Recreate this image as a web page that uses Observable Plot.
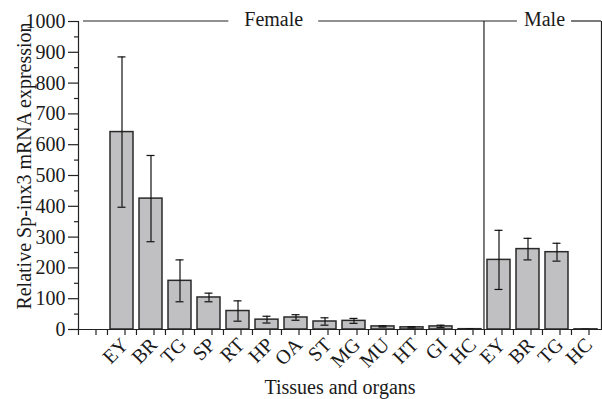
<!DOCTYPE html>
<html>
<head>
<meta charset="utf-8">
<script src="https://cdn.jsdelivr.net/npm/d3@7"></script>
<script src="https://cdn.jsdelivr.net/npm/@observablehq/plot@0.6"></script>
<style>
  html, body { margin: 0; padding: 0; background: #fff; }
  #chart svg { display: block; }
  #chart svg, #chart svg text { font-family: "Liberation Serif", "Times New Roman", "DejaVu Serif", serif !important; }
</style>
</head>
<body>
<div id="chart"></div>
<script>
const femaleTissues = ["EY","BR","TG","SP","RT","HP","OA","ST","MG","MU","HT","GI","HC"];
const femaleMeans  = [641, 425, 158, 104, 60, 32, 39, 26, 28, 10, 7, 10, 1];
const femaleErrors = [244, 140, 68, 14, 33, 11, 9, 12, 8, 2, 2, 4, 0.5];
const maleTissues = ["EY","BR","TG","HC"];
const maleMeans  = [226, 261, 251, 0.5];
const maleErrors = [96, 35, 29, 0];
const yMajorTicks = [0,100,200,300,400,500,600,700,800,900,1000];
const yMinorTicks = [50,150,250,350,450,550,650,750,850,950];
const groupLabels = ["Female", "Male"];
const yTitle = "Relative Sp-inx3 mRNA expression";
const xTitle = "Tissues and organs";

const rows = [
  ...femaleTissues.map((t, i) => ({key: "F-" + t, tissue: t, mean: femaleMeans[i], err: femaleErrors[i]})),
  ...maleTissues.map((t, i) => ({key: "M-" + t, tissue: t, mean: maleMeans[i], err: maleErrors[i]}))
];
const domain = ["pad", ...rows.map(d => d.key)];

const W = 602, H = 399, mL = 78, mR = 1, mT = 21, mB = 70;
const step = (W - mL - mR) / domain.length;
const fmt = d => d === "pad" ? "" : d.split("-")[1];
const font = "'Liberation Serif', 'Times New Roman', 'DejaVu Serif', serif";

const chart = Plot.plot({
  width: W, height: H,
  marginLeft: mL, marginRight: mR, marginTop: mT, marginBottom: mB,
  style: {fontFamily: font, fontSize: "20px", color: "#1a1a1a", background: "#fff"},
  x: {type: "band", domain, paddingInner: 0.2, paddingOuter: 0.1, align: 0.5},
  y: {domain: [0, 1000]},
  marks: [
    Plot.barY(rows, {x: "key", y: "mean", fill: "#c0c0c2", stroke: "#2a2a2a", strokeWidth: 1.5}),
    Plot.ruleX(rows, {x: "key", y1: d => d.mean - d.err, y2: d => d.mean + d.err, stroke: "#111", strokeWidth: 1.2}),
    Plot.tickY(rows, {x: "key", y: d => d.mean + d.err, stroke: "#111", strokeWidth: 1.2, insetLeft: 7.5, insetRight: 7.5}),
    Plot.tickY(rows, {x: "key", y: d => d.mean - d.err, stroke: "#111", strokeWidth: 1.2, insetLeft: 7.5, insetRight: 7.5}),
    Plot.frame({anchor: "left", stroke: "#222", strokeWidth: 1.2}),
    Plot.frame({anchor: "bottom", stroke: "#222", strokeWidth: 1.2}),
    Plot.frame({anchor: "right", stroke: "#222", strokeWidth: 1.2}),
    Plot.axisY({ticks: yMajorTicks, tickSize: 10, tickPadding: 3, tickFormat: d => String(d), label: null, stroke: "#222", strokeWidth: 1.2, fontSize: 20}),
    Plot.axisY({ticks: yMinorTicks, tickSize: 4, tickFormat: () => "", label: null, stroke: "#222", strokeWidth: 1.2}),
    Plot.axisX({ticks: domain, tickSize: 6, tickRotate: -45, tickPadding: 6, tickFormat: fmt, label: null, stroke: "#222", strokeWidth: 1.2, fontSize: 20, dx: 3}),
    Plot.axisX({ticks: domain, tickSize: 6, dx: -step / 2, tickFormat: () => "", label: null, stroke: "#222", strokeWidth: 1.2}),
    Plot.text([xTitle], {frameAnchor: "bottom", text: d => d, dy: 64, lineAnchor: "bottom", fontSize: 20})
  ]
});

document.getElementById("chart").appendChild(chart);

// decorations: header line with group labels, divider, y title
const sx = chart.scale("x");
const sy = chart.scale("y");
const center = k => sx.apply(k) + sx.bandwidth / 2;
const svg = d3.select(chart);
const yTop = sy.apply(1000), yBot = sy.apply(0);
const divX = sx.apply("M-EY") - (step - sx.bandwidth) / 2;

svg.append("line").attr("x1", divX).attr("x2", divX).attr("y1", yTop).attr("y2", yBot)
  .attr("stroke", "#222").attr("stroke-width", 1.2);

const g = svg.append("g").attr("font-size", 20).attr("fill", "#1a1a1a").attr("text-anchor", "middle");
const femaleX = center("F-HP") + 0.25 * step;
const maleX = (divX + (W - mR)) / 2 + 2;
const tF = g.append("text").attr("x", femaleX).attr("y", yTop + 5).text(groupLabels[0]);
const tM = g.append("text").attr("x", maleX).attr("y", yTop + 5).text(groupLabels[1]);
const wF = tF.node().getComputedTextLength();
const wM = tM.node().getComputedTextLength();
const segs = [
  [mL + 5, femaleX - wF / 2 - 16],
  [femaleX + wF / 2 + 15, maleX - wM / 2 - 7],
  [maleX + wM / 2 + 6, W - mR]
];
segs.forEach(([a, b]) => svg.append("line").attr("x1", a).attr("x2", b).attr("y1", yTop).attr("y2", yTop)
  .attr("stroke", "#222").attr("stroke-width", 1.2));

svg.append("text").attr("transform", `translate(31,${(yTop + yBot) / 2 - 9}) rotate(-90)`)
  .attr("text-anchor", "middle").attr("font-size", 20).attr("fill", "#1a1a1a")
  .text(yTitle);
</script>
</body>
</html>
